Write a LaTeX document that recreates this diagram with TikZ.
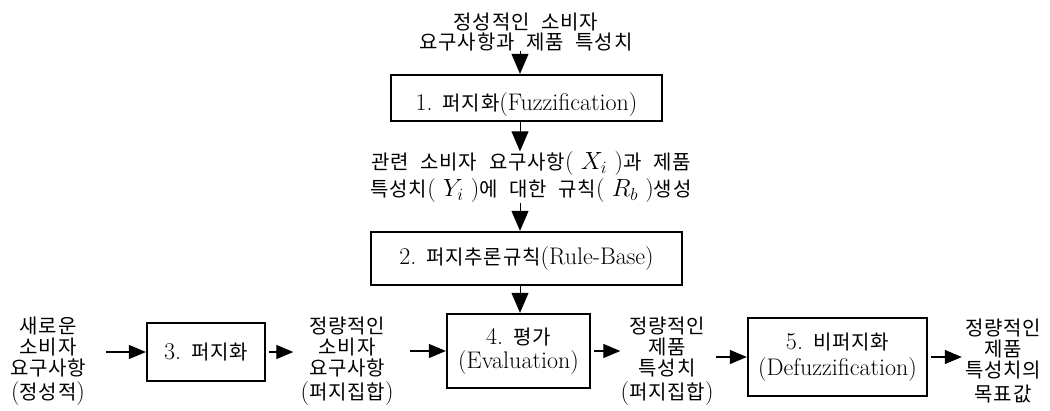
\documentclass[tikz,border=0pt]{standalone}
\usepackage{fontspec}
\newfontfamily\kr[WordSpace=2.2,LetterSpace=4]{Noto Sans CJK KR}
\usetikzlibrary{arrows.meta}
\newcommand\K[1]{{\kr\fontsize{20}{21}\selectfont #1}}
\newcommand\latfont{\fontsize{24}{21}\selectfont\lineskiplimit=-100pt}
\newcommand\krfont{\kr\fontsize{20}{20}\selectfont\lineskiplimit=-100pt}
\begin{document}
\begin{tikzpicture}[x=1pt,y=-1pt,
  box/.style={draw, line width=2.3pt, inner sep=0pt, align=center, font=\latfont},
  txt/.style={inner sep=0pt, align=center, font=\latfont},
  ktxt/.style={inner sep=0pt, align=center, font=\krfont},
  varr/.style={-{Triangle[length=20pt,width=17pt]}, line width=1pt},
  harr/.style={-{Triangle[length=17pt,width=14pt]}, line width=1.2pt}]
\useasboundingbox (0,0) rectangle (1050,410);
\coordinate (vx) at (520,0);
% top
\node[ktxt] (t0) at (526,32) {정성적인 소비자\\요구사항과 제품 특성치};
\node[box, minimum width=271pt, minimum height=46pt] (b1) at (526.5,98)
  {\raisebox{-7pt}[\height][\depth]{1.\hspace{10pt}\K{퍼지화}(Fuzzification)}};
\node[txt] (t1) at (531,177)
  {\K{관련 소비자 요구사항}(\ $X_i$\ )\K{과 제품}\\[6pt]
   \K{특성치}(\ $Y_i$\ )\K{에 대한 규칙}(\ $R_b$\ )\K{생성}};
\node[box, minimum width=311pt, minimum height=53pt] (b2) at (526.5,258.5)
  {2.\hspace{10pt}\K{퍼지추론규칙}(Rule-Base)};
% bottom row
\node[txt] (L) at (48,361) {\K{새로운}\\\K{소비자}\\\K{요구사항}\\[3pt](\K{정성적})};
\node[box, minimum width=118pt, minimum height=58pt] (b3) at (206,352)
  {3.\hspace{10pt}\K{퍼지화}};
\node[txt] (M) at (347,361) {\K{정량적인}\\\K{소비자}\\\K{요구사항}\\[3pt](\K{퍼지집합})};
\node[box, minimum width=143pt, minimum height=74pt] (b4) at (518.5,351)
  {4.\hspace{10pt}\K{평가}\\[3pt](Evaluation)};
\node[txt] (R1) at (667,361) {\K{정량적인}\\\K{제품}\\\K{특성치}\\[3pt](\K{퍼지집합})};
\node[box, minimum width=179pt, minimum height=78pt] (b5) at (837.5,357)
  {5.\hspace{10pt}\K{비퍼지화}\\[5pt](Defuzzification)};
\node[txt] (R2) at (1003,361) {\K{정량적인}\\\K{제품}\\\K{특성치의}\\[3pt]\K{목표값}};
% vertical connectors
\draw[varr] (t0.south -| vx) -- (b1.north -| vx);
\draw[varr] (b1.south -| vx) -- (t1.north -| vx);
\draw[varr] (t1.south -| vx) -- (b2.north -| vx);
\draw[varr] (b2.south -| vx) -- (b4.north -| vx);
% horizontal connectors
\draw[harr, shorten <=20pt] (L.east |- b3.west) -- (b3.west);
\draw[harr, shorten <=3pt, shorten >=7pt] (b3.east) -- (M.west |- b3.east);
\draw[harr, shorten <=16pt] (M.east |- b4.west) -- (b4.west);
\draw[harr, shorten <=3pt] (b4.east) -- (R1.west |- b4.east);
\draw[harr, shorten <=2pt] (R1.east |- b5.west) -- (b5.west);
\draw[harr, shorten <=3pt, shorten >=3pt] (b5.east) -- (R2.west |- b5.east);
\end{tikzpicture}
\end{document}
